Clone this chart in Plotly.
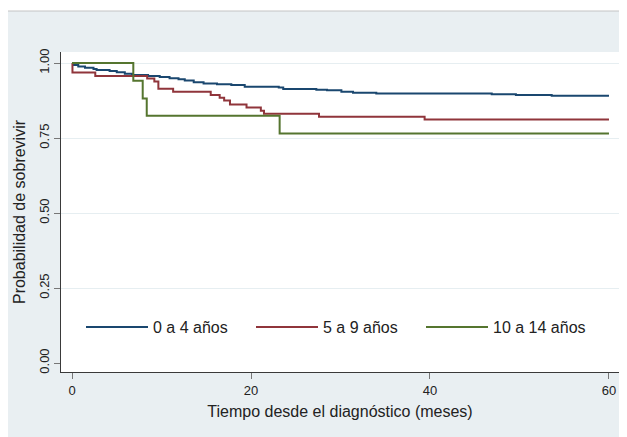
import plotly.graph_objects as go

# Kaplan-Meier estimates
groups = ["0 a 4 años", "5 a 9 años", "10 a 14 años"]

t_0a4 = [0, 0.15, 0.7, 1.45, 2.4, 2.75, 4.2, 5.0, 5.9, 6.7, 8.5, 9.8, 10.9, 11.9, 12.6,
         13.6, 14.7, 16.2, 17.8, 19.3, 23.1, 23.6, 27.3, 28.5, 30.1, 31.4, 34.0, 46.9,
         49.6, 53.6, 60.0]
s_0a4 = [1.0, 0.993, 0.988, 0.984, 0.980, 0.977, 0.973, 0.969, 0.964, 0.960, 0.957, 0.953,
         0.949, 0.946, 0.942, 0.936, 0.932, 0.929, 0.927, 0.921, 0.918, 0.913, 0.911,
         0.909, 0.904, 0.901, 0.898, 0.896, 0.893, 0.891, 0.891]

t_5a9 = [0, 0.05, 2.6, 8.4, 9.2, 9.65, 11.3, 15.5, 16.5, 17.0, 17.65, 19.5, 21.1, 21.45,
         27.6, 39.4, 60.0]
s_5a9 = [1.0, 0.968, 0.957, 0.948, 0.938, 0.914, 0.904, 0.893, 0.884, 0.875, 0.862, 0.852,
         0.841, 0.831, 0.821, 0.812, 0.812]

t_10a14 = [0, 6.85, 7.9, 8.35, 23.2, 60.0]
s_10a14 = [1.0, 0.941, 0.882, 0.824, 0.765, 0.765]

y_ticks = [0, 0.25, 0.5, 0.75, 1.0]
y_ticklabels = ["0.00", "0.25", "0.50", "0.75", "1.00"]
x_ticks = [0, 20, 40, 60]

colors = ["#1a476f", "#90353b", "#55752f"]
series = [(t_0a4, s_0a4), (t_5a9, s_5a9), (t_10a14, s_10a14)]

# the page body adds an 8px offset; work in figure coordinates
OFF = 8
W, H = 627 - OFF, 437 - OFF
L, R, T, B = 61 - OFF, 8, 52 - OFF, 437 - 372
pw, ph = W - L - R, H - T - B

fig = go.Figure()
for name, (t, s), c in zip(groups, series, colors):
    fig.add_trace(go.Scatter(x=t, y=s, mode="lines", name=name,
                             line=dict(color=c, width=2, shape="hv")))

# invisible trace on overlay axis to carry the gridlines
fig.add_trace(go.Scatter(x=[0], y=[0], yaxis="y2", mode="markers",
                         marker=dict(opacity=0), showlegend=False, hoverinfo="skip"))

font = "Liberation Sans, Arial, sans-serif"
bg = "#e9eff2"
txt = "#222222"

def px_x(p):
    # window pixel -> paper x
    return (p - OFF - L) / pw

def px_y(p):
    # window pixel -> paper y
    return (H - B - (p - OFF)) / ph

fig.update_layout(
    width=W, height=H,
    margin=dict(l=L, r=R, t=T, b=B, pad=0, autoexpand=False),
    paper_bgcolor=bg, plot_bgcolor="white",
    font=dict(family=font, color=txt),
    showlegend=True,
    legend=dict(orientation="h", x=px_x(81), y=px_y(327), xanchor="left", yanchor="middle",
                bgcolor="rgba(0,0,0,0)", font=dict(size=16, family=font, color=txt),
                itemwidth=62, entrywidth=93, entrywidthmode="pixels",
                traceorder="normal"),
    xaxis=dict(range=[-1.23, 61.12], tickvals=x_ticks, showgrid=False, zeroline=False,
               automargin=False,
               showline=True, linecolor="#3a3a3a", linewidth=1, mirror=False,
               ticks="outside", ticklen=6, tickcolor="#777777", tickwidth=1,
               tickfont=dict(size=13, family=font, color=txt),
               title=dict(text="Tiempo desde el diagnóstico (meses)",
                          font=dict(size=16, family=font, color=txt), standoff=9)),
    yaxis=dict(range=[-0.03, 1.0367], tickvals=y_ticks, ticktext=y_ticklabels,
               automargin=False,
               showgrid=False, zeroline=False, tickangle=-90,
               showline=True, linecolor="#3a3a3a", linewidth=1,
               ticks="outside", ticklen=6, tickcolor="#777777", tickwidth=1,
               tickfont=dict(size=13, family=font, color=txt),
               title=dict(text="Probabilidad de sobrevivir",
                          font=dict(size=16, family=font, color=txt), standoff=7)),
    yaxis2=dict(range=[-0.03, 1.0367], overlaying="y", tickvals=y_ticks[1:],
                automargin=False,
                showgrid=True, gridcolor="#e6eef1", gridwidth=1, showticklabels=False,
                ticks="", zeroline=False, showline=False, side="left"),
    shapes=[
        dict(type="rect", xref="paper", yref="paper", layer="below",
             x0=px_x(0), x1=px_x(627), y0=px_y(11), y1=px_y(OFF),
             fillcolor="white", line=dict(width=0)),
        dict(type="line", xref="paper", yref="paper", layer="below",
             x0=px_x(OFF), x1=px_x(627), y0=px_y(11), y1=px_y(11),
             line=dict(color="#c4c4c4", width=1)),
    ],
)

fig.write_html("out.html")
